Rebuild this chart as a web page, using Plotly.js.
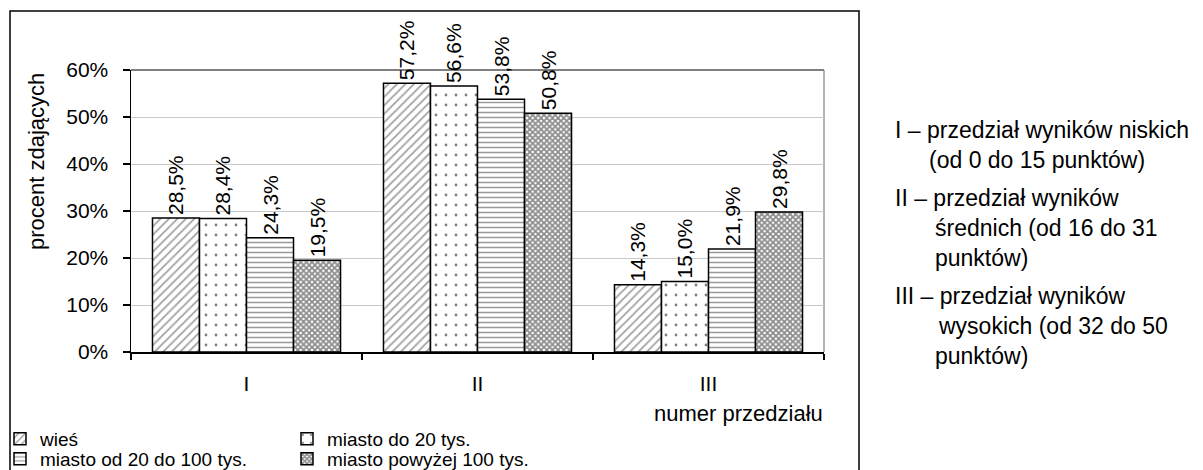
<!DOCTYPE html>
<html>
<head>
<meta charset="utf-8">
<script src="https://cdn.plot.ly/plotly-3.0.1.min.js"></script>
<style>html,body{margin:0;padding:0;background:#fff;}#chart{width:1203px;height:470px;}</style>
</head>
<body>
<div id="chart"></div>
<script>
// ---- data ----
const categories = ['I', 'II', 'III'];
const seriesNames = ['wieś', 'miasto do 20 tys.', 'miasto od 20 do 100 tys.', 'miasto powyżej 100 tys.'];
const wies = [28.5, 57.2, 14.3];
const miastoDo20 = [28.4, 56.6, 15.0];
const miasto20do100 = [24.3, 53.8, 21.9];
const miastoPow100 = [19.5, 50.8, 29.8];
const yTickValues = [0, 10, 20, 30, 40, 50, 60];
const yAxisTitle = 'procent zdających';
const xAxisTitle = 'numer przedziału';
const noteLines = [
  'I – przedział wyników niskich',
  '(od 0 do 15 punktów)',
  'II – przedział wyników',
  'średnich (od 16 do 31',
  'punktów)',
  'III – przedział wyników',
  'wysokich (od 32 do 50',
  'punktów)'
];

// ---- geometry helpers (pixels -> paper) ----
const W = 1203, H = 470;
const M = {l: 131, r: 379, t: 70, b: 118};
const PW = W - M.l - M.r, PH = H - M.t - M.b;
const px = x => (x - M.l) / PW;
const py = y => (H - M.b - y) / PH;

const fmt = v => v.toFixed(1).replace('.', ',') + '%';
const FONT = 'Liberation Sans, Arial, sans-serif';

const seriesValues = [wies, miastoDo20, miasto20do100, miastoPow100];
const patterns = [
  {shape: '/', size: 6, solidity: 0.3, fgcolor: '#444444', bgcolor: '#ffffff', fillmode: 'overlay'},
  {shape: '.', size: 10, solidity: 0.06, fgcolor: '#000000', bgcolor: '#ffffff', fillmode: 'overlay'},
  {shape: '-', size: 5, solidity: 0.3, fgcolor: '#333333', bgcolor: '#ffffff', fillmode: 'overlay'},
  {shape: 'x', size: 4, solidity: 0.7, fgcolor: '#1a1a1a', bgcolor: '#ffffff', fillmode: 'overlay'}
];
const legendIds = ['legend', 'legend', 'legend2', 'legend2'];

const traces = seriesValues.map((vals, i) => ({
  type: 'bar',
  name: seriesNames[i],
  x: categories,
  y: vals,
  text: vals.map(fmt),
  textposition: 'outside',
  textangle: -90,
  constraintext: 'none',
  cliponaxis: false,
  textfont: {family: FONT, size: 21, color: '#000'},
  marker: {color: '#ffffff', line: {color: '#000', width: 1.5}, pattern: patterns[i]},
  legend: legendIds[i],
  hoverinfo: 'x+y+name'
}));

const annotations = [
  {text: yAxisTitle, x: px(36), y: py(162), xref: 'paper', yref: 'paper', textangle: -90,
   showarrow: false, xanchor: 'center', yanchor: 'middle', font: {family: FONT, size: 22, color: '#000'}},
  {text: xAxisTitle, x: px(825), y: py(413), xref: 'paper', yref: 'paper',
   showarrow: false, xanchor: 'right', yanchor: 'middle', font: {family: FONT, size: 22, color: '#000'}}
];
const noteX = [895, 929, 895, 935, 935, 895, 938, 935];
const noteY = [130, 160, 198, 228, 258, 296, 326, 356];
noteLines.forEach((t, i) => {
  annotations.push({text: t, x: px(noteX[i]), y: py(noteY[i]), xref: 'paper', yref: 'paper',
    showarrow: false, xanchor: 'left', yanchor: 'middle', xshift: -2,
    font: {family: FONT, size: 23, color: '#000'}});
});

const shapes = [
  // outer frame
  {type: 'rect', xref: 'paper', yref: 'paper', x0: px(10), x1: px(859), y0: py(472), y1: py(11),
   line: {color: '#000', width: 1.5}, fillcolor: 'rgba(0,0,0,0)', layer: 'below'},
  // plot area top and right borders
  {type: 'line', xref: 'paper', yref: 'paper', x0: 0, x1: 1, y0: 1, y1: 1, line: {color: '#000', width: 1.2}, layer: 'below'},
  {type: 'line', xref: 'paper', yref: 'paper', x0: 1, x1: 1, y0: 0, y1: 1, line: {color: '#808080', width: 1.2}, layer: 'below'}
];

const legendCommon = {
  orientation: 'h', xanchor: 'left', yanchor: 'middle',
  entrywidth: 242, entrywidthmode: 'pixels',
  font: {family: FONT, size: 19, color: '#000'},
  bgcolor: 'rgba(0,0,0,0)', borderwidth: 0
};

const layout = {
  width: W, height: H,
  margin: {l: M.l, r: M.r, t: M.t, b: M.b, autoexpand: false},
  paper_bgcolor: '#fff', plot_bgcolor: '#fff',
  font: {family: FONT, size: 21, color: '#000'},
  barmode: 'group', bargap: 0.186, bargroupgap: 0,
  showlegend: true,
  legend: Object.assign({x: px(0), y: py(439)}, legendCommon),
  legend2: Object.assign({x: px(0), y: py(459)}, legendCommon),
  xaxis: {
    type: 'category', tickson: 'boundaries', ticks: 'outside', ticklen: 6, tickcolor: '#000', tickwidth: 1.2,
    showline: true, linecolor: '#000', linewidth: 1.5, showgrid: false,
    tickfont: {family: FONT, size: 21, color: '#000'}, ticklabelstandoff: 12, fixedrange: true
  },
  yaxis: {
    range: [0, 60], tickvals: yTickValues, ticktext: yTickValues.map(v => v + '%'),
    ticks: 'outside', ticklen: 7, tickcolor: '#000', tickwidth: 1.2,
    showline: true, linecolor: '#000', linewidth: 1.5,
    showgrid: true, gridcolor: '#c8c8c8', gridwidth: 1, zeroline: false,
    tickfont: {family: FONT, size: 21, color: '#000'}, ticklabelstandoff: 10, fixedrange: true
  },
  annotations: annotations,
  shapes: shapes
};

Plotly.newPlot('chart', traces, layout, {displayModeBar: false, staticPlot: true});
</script>
</body>
</html>
